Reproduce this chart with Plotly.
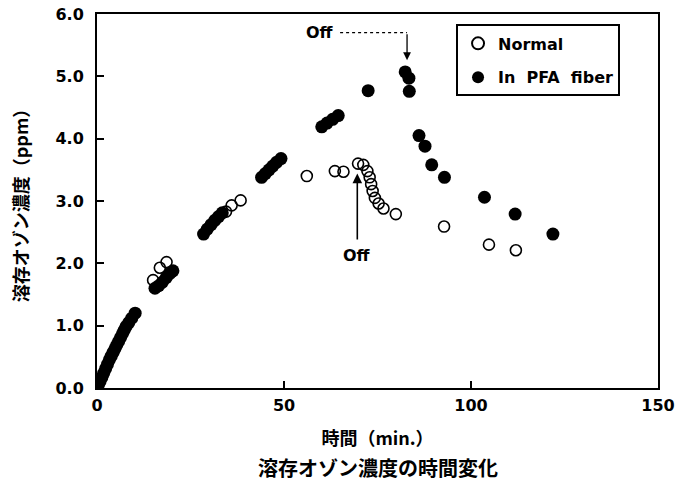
import plotly.graph_objects as go

# Normal (open circles)
normal_t = [15.0, 16.8, 18.6, 34.5, 36.0, 38.4, 56.1, 63.6, 65.9, 69.8, 71.2,
            72.3, 72.9, 73.3, 73.7, 74.3, 75.3, 76.6, 79.9, 92.8, 104.8, 112.0]
normal_c = [1.73, 1.93, 2.02, 2.83, 2.93, 3.01, 3.40, 3.48, 3.47, 3.60, 3.58,
            3.48, 3.38, 3.27, 3.16, 3.05, 2.96, 2.88, 2.79, 2.59, 2.30, 2.21]

# In PFA fiber (filled circles)
pfa_t = [0.3, 0.8, 1.3, 1.8, 2.3, 2.8, 3.3, 3.8, 4.3, 4.8, 5.3, 5.8, 6.3, 6.8,
         7.3, 7.8, 8.5, 9.3, 10.2,
         15.5, 16.5, 17.5, 18.5, 19.5, 20.3,
         28.5, 29.5, 30.5, 31.5, 32.5, 33.5,
         44.0, 45.0, 46.0, 47.0, 48.0, 49.2,
         60.1, 61.5, 63.0, 64.5, 72.5,
         82.4, 83.4, 83.5, 86.1, 87.7, 89.5, 92.9, 103.6, 111.8, 121.9]
pfa_c = [0.04, 0.10, 0.17, 0.24, 0.31, 0.38, 0.45, 0.51, 0.57, 0.63, 0.69, 0.75, 0.81, 0.87,
         0.93, 0.99, 1.05, 1.12, 1.20,
         1.60, 1.64, 1.70, 1.77, 1.84, 1.88,
         2.47, 2.55, 2.62, 2.69, 2.75, 2.81,
         3.38, 3.44, 3.50, 3.56, 3.62, 3.68,
         4.19, 4.25, 4.31, 4.37, 4.77,
         5.07, 4.97, 4.76, 4.05, 3.88, 3.58, 3.38, 3.06, 2.79, 2.47]

x_ticks = [0, 50, 100, 150]
y_ticks = [0, 1, 2, 3, 4, 5, 6]

latin = "DejaVu Sans"
cjk = "Noto Sans CJK JP"
tickfont = dict(family=latin, size=16, color="black", weight="bold")

fig = go.Figure()
fig.add_trace(go.Scatter(
    x=normal_t, y=normal_c, mode="markers", name="Normal", legendgroup="a",
    marker=dict(symbol="circle-open", size=11, color="black", line=dict(width=1.6, color="black")),
))
fig.add_trace(go.Scatter(
    x=pfa_t, y=pfa_c, mode="markers", name="In  PFA  fiber", legendgroup="b",
    marker=dict(symbol="circle", size=13, color="black", line=dict(width=0)),
))

fig.update_layout(
    width=675, height=481,
    margin=dict(l=97, r=17, t=14, b=93),
    paper_bgcolor="white", plot_bgcolor="white",
    showlegend=True,
    legend=dict(
        x=0.64, y=0.972, xanchor="left", yanchor="top",
        bordercolor="black", borderwidth=2, bgcolor="white",
        font=dict(family=latin, size=16, color="black", weight="bold"),
        itemsizing="constant", tracegroupgap=10, itemwidth=30,
    ),
    xaxis=dict(
        range=[0, 150], tickvals=x_ticks, ticks="inside", ticklen=7, tickwidth=1.5,
        tickcolor="black", showline=True, linecolor="black", linewidth=2, mirror=True,
        showgrid=False, zeroline=False, tickfont=tickfont, ticklabelstandoff=2,
        automargin=False,
        title=dict(text="時間（min.）", font=dict(family=cjk, size=18, color="black", weight="bold"), standoff=18),
    ),
    yaxis=dict(
        range=[0, 6], tickvals=y_ticks, tickformat=".1f", ticks="inside", ticklen=7, tickwidth=1.5,
        tickcolor="black", showline=True, linecolor="black", linewidth=2, mirror=True,
        showgrid=False, zeroline=False, tickfont=tickfont, ticklabelstandoff=8,
        automargin=False,
        title=dict(text="溶存オゾン濃度（ppm）", font=dict(family=cjk, size=18, color="black", weight="bold"), standoff=22),
    ),
)

# Caption
fig.add_annotation(
    text="溶存オゾン濃度の時間変化", xref="paper", yref="paper", x=0.5, y=-0.212,
    xanchor="center", yanchor="middle", showarrow=False,
    font=dict(family=cjk, size=20, color="black", weight="bold"),
)

# Upper "Off" label with dotted leader and arrow
fig.add_annotation(text="Off", x=59.6, y=5.70, xref="x", yref="y", showarrow=False,
                   font=dict(family=latin, size=16, color="black", weight="bold"))
fig.add_shape(type="line", x0=65.0, y0=5.70, x1=82.9, y1=5.70, xref="x", yref="y",
              line=dict(color="black", width=1.2, dash="dot"))
fig.add_annotation(text="", x=82.9, y=5.26, ax=82.9, ay=5.70, xref="x", yref="y",
                   axref="x", ayref="y", showarrow=True, arrowhead=2, arrowsize=1.2,
                   arrowwidth=1.3, arrowcolor="black")

# Lower "Off" label with arrow
fig.add_annotation(text="Off", x=69.5, y=2.13, xref="x", yref="y", showarrow=False,
                   font=dict(family=latin, size=16, color="black", weight="bold"))
fig.add_annotation(text="", x=69.6, y=3.44, ax=69.6, ay=2.36, xref="x", yref="y",
                   axref="x", ayref="y", showarrow=True, arrowhead=2, arrowsize=1.2,
                   arrowwidth=1.6, arrowcolor="black")

fig.write_html("out.html")
